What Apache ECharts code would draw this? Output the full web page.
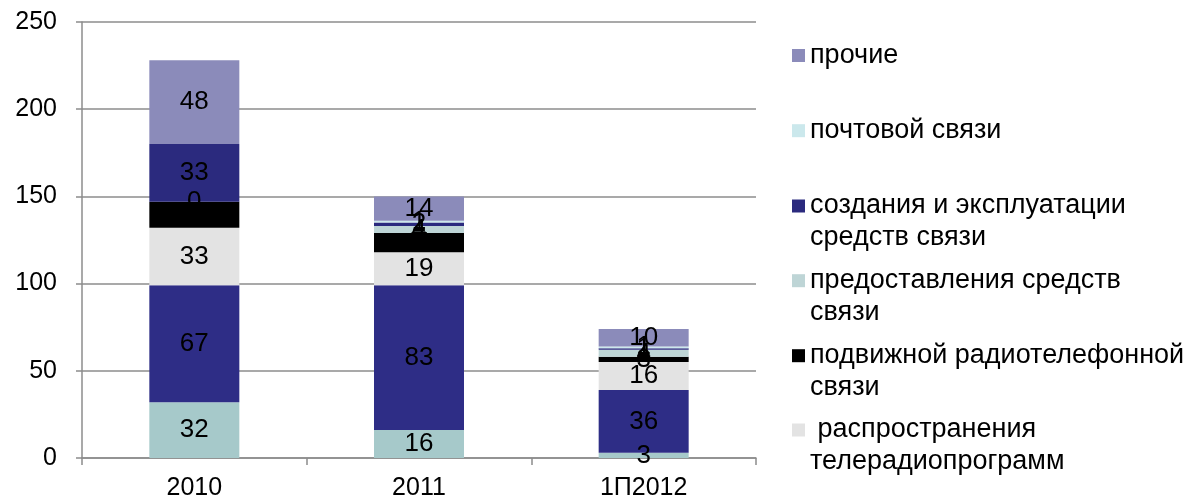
<!DOCTYPE html>
<html>
<head>
<meta charset="utf-8">
<script src="https://cdn.jsdelivr.net/npm/echarts@6/dist/echarts.min.js"></script>
<style>
    html, body { margin: 0; padding: 0; background: #fff; }
    #chart { width: 1185px; height: 501px; }
</style>
</head>
<body>
<div id="chart"></div>
<script>
// categories
const categories = ['2010', '2011', '1П2012']
// series values, bottom to top of the stack
const bottomTeal = [32, 16, 3]
const bottomNavy = [67, 83, 36]
const rasprostraneniya = [33, 19, 16]
const podvizhnoy = [15, 11, 3]
const predostavleniya = [0, 4, 4]
const sozdaniya = [33, 2, 1]
const pochtovoy = [null, 1, 1]
const prochie = [48, 14, 10]
// y ticks
const yMin = 0, yMax = 250, yStep = 50

const FONT = 'Liberation Sans, Arial, sans-serif'
const FS = 25        // axis labels
const FS_LABEL = 26  // numbers on the bars
const FS_LEGEND = 27

const seriesList = [
    { name: 'ряд 1', data: bottomTeal, color: '#a6c9ca' },
    { name: 'ряд 2', data: bottomNavy, color: '#2e2d86' },
    { name: ' распространения телерадиопрограмм', data: rasprostraneniya, color: '#e3e3e3' },
    { name: 'подвижной радиотелефонной связи', data: podvizhnoy, color: '#000000' },
    { name: 'предоставления средств связи', data: predostavleniya, color: '#bed5d6' },
    { name: 'создания и эксплуатации средств связи', data: sozdaniya, color: '#2b2a7e' },
    { name: 'почтовой связи', data: pochtovoy, color: '#cbe8ec' },
    { name: 'прочие', data: prochie, color: '#8b8bba' }
]

// legend entries: name, shown lines, icon centre y
const legendItems = [
    { name: 'прочие', lines: ['прочие'], y: 55.5 },
    { name: 'почтовой связи', lines: ['почтовой связи'], y: 130.7 },
    { name: 'создания и эксплуатации средств связи', lines: ['создания и эксплуатации', 'средств связи'], y: 206 },
    { name: 'предоставления средств связи', lines: ['предоставления средств', 'связи'], y: 280.7 },
    { name: 'подвижной радиотелефонной связи', lines: ['подвижной радиотелефонной', 'связи'], y: 355.7 },
    { name: ' распространения телерадиопрограмм', lines: [' распространения', 'телерадиопрограмм'], y: 430 }
]
const LH = 32

const chart = echarts.init(document.getElementById('chart'))
chart.setOption({
    backgroundColor: '#fff',
    animation: false,
    textStyle: { fontFamily: FONT },
    grid: { left: 82, right: 429, top: 22, bottom: 42 },
    legend: legendItems.map(item => ({
        data: [item.name],
        orient: 'vertical',
        left: 792,
        // one-line item: box = LH; two-line item gets a blank line above so the icon sits on line 1
        top: item.lines.length > 1 ? item.y - LH * 1.5 : item.y - LH / 2,
        padding: 0,
        itemWidth: 13,
        itemHeight: 13,
        icon: 'rect',
        selectedMode: false,
        formatter: () => item.lines.length > 1 ? '\n' + item.lines.join('\n') : item.lines[0],
        textStyle: { fontSize: FS_LEGEND, color: '#000', fontFamily: FONT, lineHeight: LH }
    })),
    xAxis: {
        type: 'category',
        data: categories,
        axisLine: { lineStyle: { color: '#8c8c8c', width: 1.5 } },
        axisTick: { show: true, length: 7, lineStyle: { color: '#8c8c8c', width: 1.5 } },
        axisLabel: { fontSize: FS, color: '#000', margin: 18, fontFamily: FONT }
    },
    yAxis: {
        type: 'value',
        min: yMin,
        max: yMax,
        interval: yStep,
        axisLine: { show: true, lineStyle: { color: '#8c8c8c', width: 1.5 } },
        axisTick: { show: true, length: 6, lineStyle: { color: '#8c8c8c', width: 1.5 } },
        axisLabel: { fontSize: FS, color: '#000', margin: 25, fontFamily: FONT },
        splitLine: { lineStyle: { color: '#8c8c8c', width: 1.5 } }
    },
    series: seriesList.map(s => ({
        name: s.name,
        type: 'bar',
        stack: 'total',
        barWidth: 90,
        data: s.data,
        itemStyle: { color: s.color },
        label: {
            show: true,
            position: 'inside',
            color: '#000',
            fontSize: FS_LABEL,
            fontFamily: FONT,
            formatter: p => p.value == null ? '' : String(p.value)
        }
    }))
})
</script>
</body>
</html>
